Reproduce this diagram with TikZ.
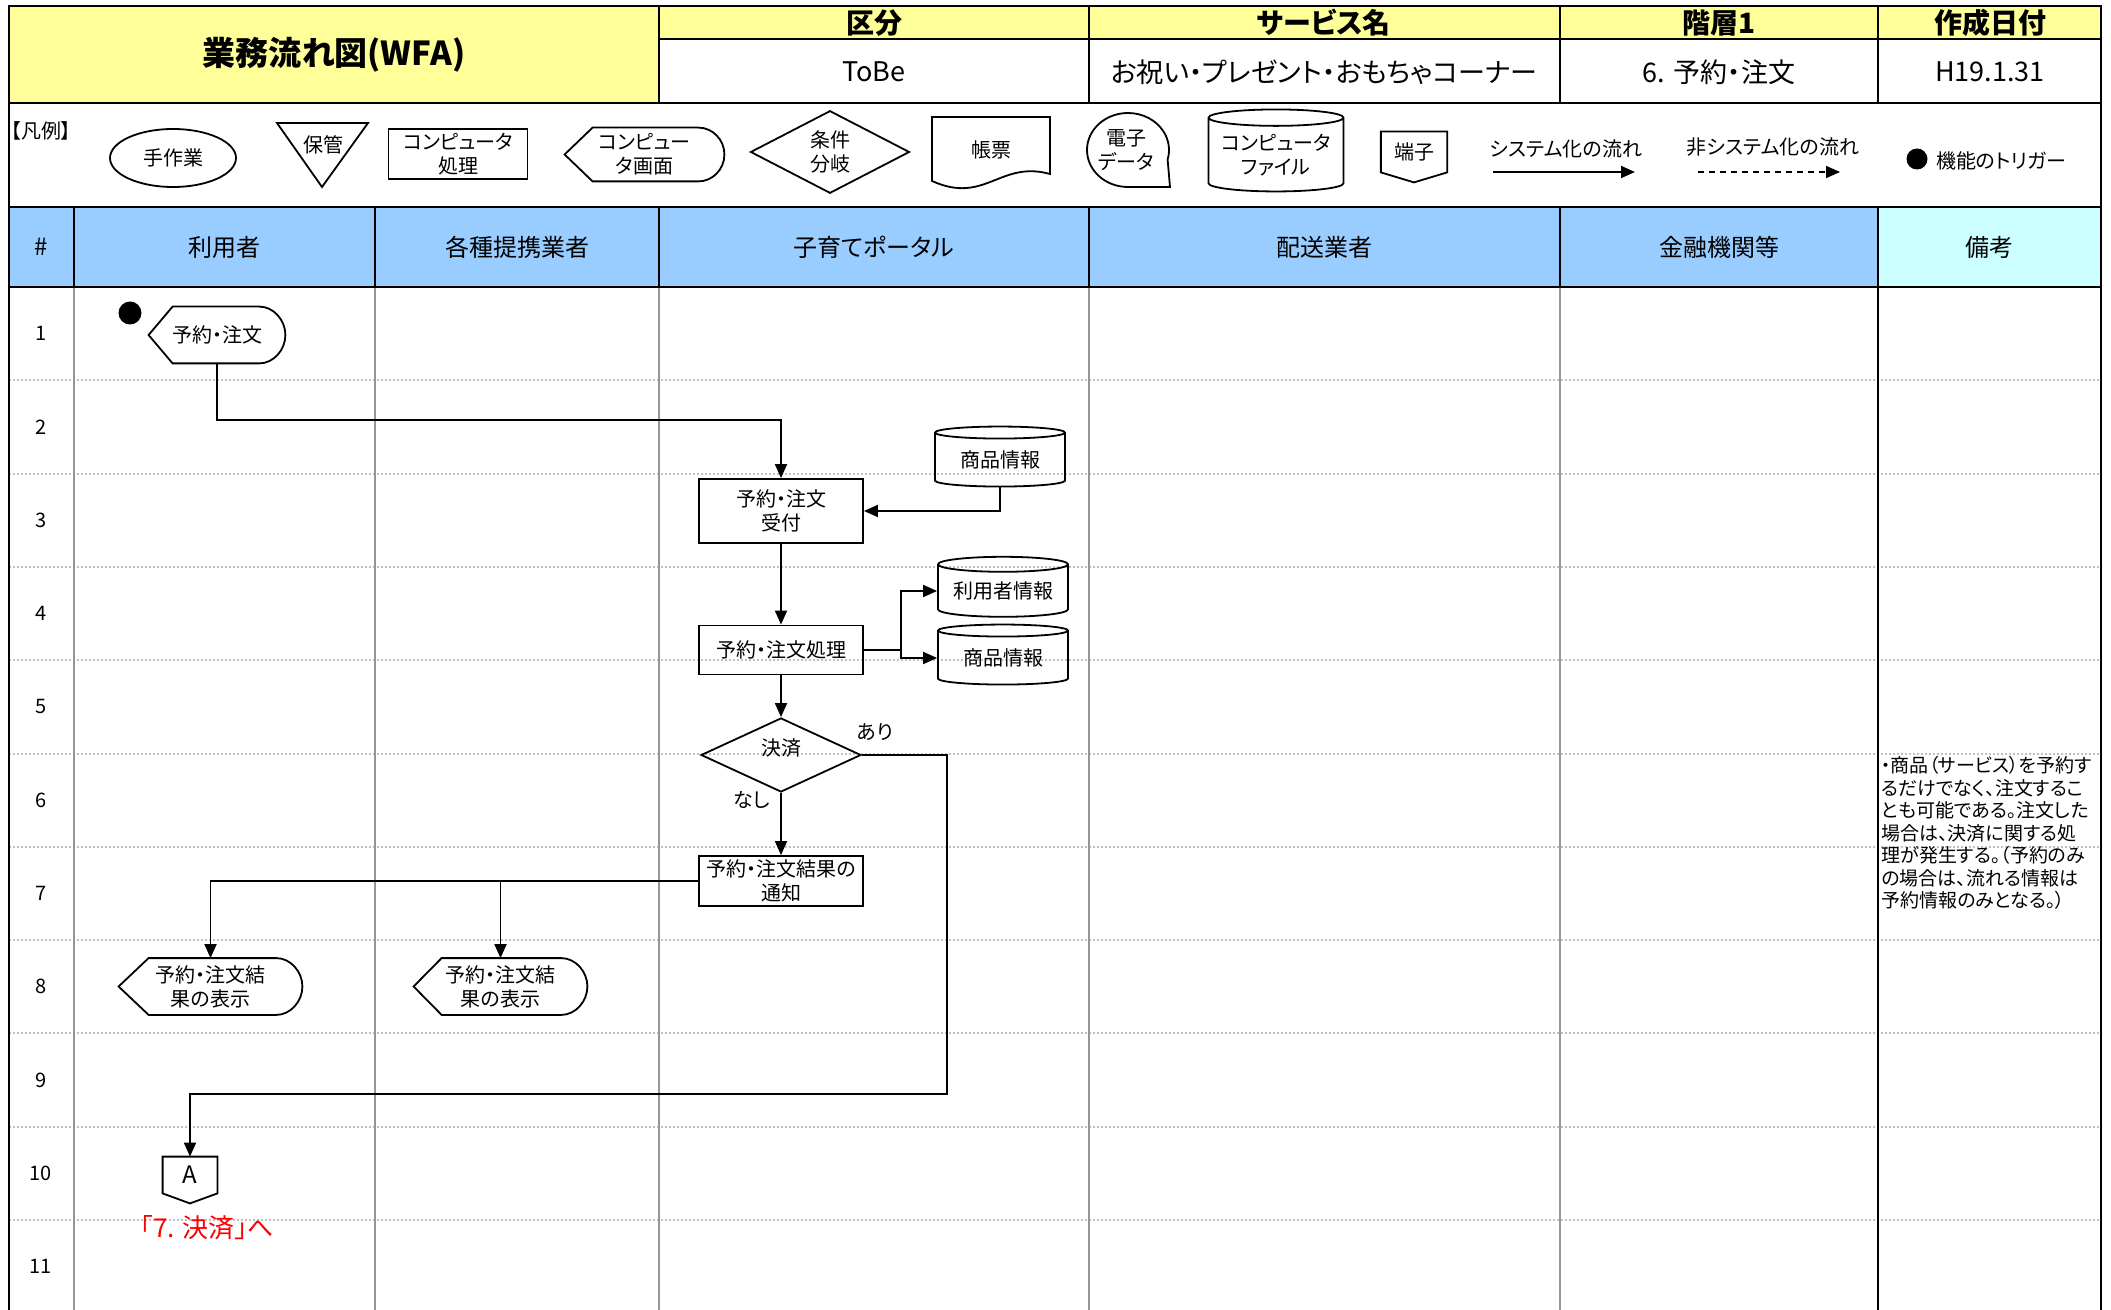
\documentclass[tikz,border=0pt]{standalone}
\usepackage{fontspec}
\setmainfont{Noto Sans CJK JP}[RawFeature=+palt]
\usetikzlibrary{calc, arrows.meta, shapes.geometric}
\definecolor{ttlyellow}{HTML}{FFFF99}
\definecolor{laneblue}{HTML}{99CCFF}
\definecolor{notecyan}{HTML}{CCFFFF}
\definecolor{lanegray}{HTML}{969696}
\definecolor{dotgray}{HTML}{C0C0C0}
\tikzset{>={Triangle[length=7pt,width=6pt]}}
\tikzset{
  boldline/.style={line width=1.3pt},
  lanesep/.style={lanegray, line width=1pt},
  rowsep/.style={dotgray, line width=1pt, dash pattern=on 1pt off 1pt},
  flow/.style={line width=0.9pt},
  shp/.style={draw, line width=0.9pt},
  procbox/.style={shp, minimum width=82pt},
  dispnode/.style={minimum height=28pt},
  datacyl/.style={shp, cylinder, shape border rotate=90, shape aspect=0.15, minimum width=65pt, minimum height=30pt},
  offpage/.style={minimum width=27pt, minimum height=18pt},
  hdr/.style={font=\fontsize{14pt}{16pt}\selectfont\bfseries},
  hval/.style={font=\fontsize{13.5pt}{16pt}\selectfont},
  lane/.style={font=\fontsize{12pt}{14pt}\selectfont}
}
\begin{document}
\begin{tikzpicture}[x=0.5pt, y=-0.5pt, every node/.style={font=\fontsize{10pt}{12pt}\selectfont, inner sep=0pt, align=center}]
\useasboundingbox (0,0) rectangle (2111,1310);
\fill[ttlyellow] (9,6) rectangle (659,103);
\fill[ttlyellow] (659,6) rectangle (2101,39);
\fill[laneblue] (9,207) rectangle (1878,287);
\fill[notecyan] (1878,207) rectangle (2101,287);
\foreach \i in {1,...,10}
  \draw[rowsep] (9,{287+93.3*\i}) -- (2101,{287+93.3*\i});
\foreach \x in {74,375,659,1089,1560}
  \draw[lanesep] (\x,287) -- (\x,1310);
\foreach \x in {74,375,659,1089,1560,1878}
  \draw[boldline] (\x,207) -- (\x,287);
\foreach \x in {659,1089,1560,1878}
  \draw[boldline] (\x,6) -- (\x,103);
\draw[boldline] (1878,287) -- (1878,1310);
\draw[boldline] (659,39) -- (2101,39);
\draw[boldline] (9,103) -- (2101,103);
\draw[boldline] (9,207) -- (2101,207);
\draw[boldline] (9,287) -- (2101,287);
\draw[boldline] (9,1310) -- (9,6) -- (2101,6) -- (2101,1310);

\node[font=\fontsize{16.5pt}{18pt}\selectfont\bfseries] (title) at (334,55) {業務流れ図(WFA)};
\node[hdr] (hkubun) at (874,23) {区分};
\node[hdr] (hsvc) at (1324,23) {サービス名};
\node[hdr] (hlvl) at (1719,23) {階層1};
\node[hdr] (hdate) at (1990,23) {作成日付};
\node[hval] (vkubun) at (874,72) {ToBe};
\node[hval] (vsvc) at (1324,72) {お祝い・プレゼント・おもちゃコーナー};
\node[hval] (vlvl) at (1719,72) {6. 予約・注文};
\node[hval] (vdate) at (1990,72) {H19.1.31};

\node[lane] (lnum) at (41,247) {\#};
\node[lane] (luser) at (224.5,247) {利用者};
\node[lane] (lpartner) at (517,247) {各種提携業者};
\node[lane] (lportal) at (874,247) {子育てポータル};
\node[lane] (lship) at (1324.5,247) {配送業者};
\node[lane] (lbank) at (1719,247) {金融機関等};
\node[lane] (lnote) at (1989.5,247) {備考};
\foreach \i in {1,...,11}
  \node (row\i) at (41,{287+93.3*(\i-0.5)}) {\i};

\node[anchor=north west] (lgtitle) at (11,121) {【凡例】};
\node[shp, ellipse, minimum width=63pt, minimum height=29pt] (lgman) at (173,158) {手作業};
\draw[flow] (277,123) -- (368,123) -- (322,187) -- cycle;
\node (lgsto) at (323,145) {保管};
\node[shp, minimum width=69.5pt, minimum height=25pt] (lgproc) at (458,154) {コンピュータ\\処理};
\node[minimum width=79.5pt, minimum height=26.5pt] (lgdisp) at (644.5,154.5) {コンピュー\\タ画面};
\node[shp, diamond, minimum width=79.5pt, minimum height=35pt] (lgcond) at (830,152) {条件\\分岐};
\draw[flow] (932,117) -- (1050,117) -- (1050,174) .. controls (1000,160) and (985,205) .. (932,181) -- cycle;
\node (lgdoc) at (991,150) {帳票};
\draw[flow] (1128,187) arc[start angle=-90, end angle=-375, x radius=20.5pt, y radius=18.5pt] -- (1170,187) -- cycle;
\node (lgtape) at (1126,150) {電子\\データ};
\node[datacyl, minimum width=67.5pt, minimum height=41pt] (lgfile) at (1276,155) {コンピュータ\\ファイル};
\node[offpage, minimum width=32.75pt, minimum height=20pt] (lgterm) at (1414,152) {端子};
\node (lgsys) at (1566,149) {システム化の流れ};
\coordinate (lgsysa) at (1493,172);
\coordinate (lgsysb) at (1635,172);
\draw[flow,->] (lgsysa) -- (lgsysb);
\node (lgnsys) at (1773,147) {非システム化の流れ};
\coordinate (lgnsysa) at (1698,172);
\coordinate (lgnsysb) at (1840,172);
\draw[flow,->,dash pattern=on 3pt off 2.5pt] (lgnsysa) -- (lgnsysb);
\node[circle, fill, minimum size=10.5pt] (lgdot) at (1917,159) {};
\node (lgtrig) at (2001,161) {機能のトリガー};

\node[circle, fill, minimum size=11.5pt] (trig) at (130,313) {};
\node[dispnode, minimum width=68pt] (in1) at (217,335) {予約・注文};
\node[procbox, minimum height=32pt] (uke) at (781,511) {予約・注文\\受付};
\node[datacyl] (sh1) at (1000,460) {商品情報};
\node[procbox, minimum height=24.5pt] (shori) at (781,650) {予約・注文処理};
\node[datacyl] (usr) at (1003,591) {利用者情報};
\node[datacyl] (sh2) at (1003,658) {商品情報};
\node[shp, diamond, minimum width=80pt, minimum height=37pt] (kes) at (781,755) {\raisebox{8pt}{決済}};
\node (lblyes) at (875,732) {あり};
\node (lblno) at (752,800) {なし};
\node[procbox, minimum height=25pt] (tsuchi) at (781,881) {予約・注文結果の\\通知};
\node[dispnode, minimum width=91.5pt] (out1) at (210.5,986.5) {予約・注文結\\果の表示};
\node[dispnode, minimum width=86.5pt] (out2) at (500.5,986.5) {予約・注文結\\果の表示};
\node[offpage, font=\fontsize{12pt}{14pt}\selectfont] (conA) at (190,1175) {A};
\node[text=red, font=\fontsize{13pt}{15pt}\selectfont] (gopay) at (207,1228) {「7. 決済」へ};

\foreach \n/\s in {lgdisp/14pt,in1/12pt,out1/15pt,out2/14pt}
  \draw[flow] (\n.west) -- ([xshift=\s]\n.north west) -- ([xshift=-13pt]\n.north east)
    .. controls ([xshift=-6pt]\n.north east) and ([yshift=7.5pt]\n.east) .. (\n.east)
    .. controls ([yshift=-7.5pt]\n.east) and ([xshift=-6pt]\n.south east) .. ([xshift=-13pt]\n.south east)
    -- ([xshift=\s]\n.south west) -- cycle;
\foreach \n in {lgterm,conA}
  \draw[flow] (\n.north west) -- (\n.north east) -- (\n.south east) -- ([yshift=-5pt]\n.south) -- (\n.south west) -- cycle;

\coordinate (j1) at (781,420);
\draw[flow,->] (in1.south) |- (j1) -- (uke.north);
\draw[flow,->] (sh1.south) |- (uke.east);
\draw[flow,->] (uke.south) -- (shori.north);
\coordinate (j2) at (901,650);
\draw[flow,->] (shori.east) -- (j2) |- (usr.west);
\draw[flow,->] (j2) |- (sh2.west);
\draw[flow,->] (shori.south) -- (kes.north);
\draw[flow,->] (kes.south) -- (tsuchi.north);
\coordinate (j3) at (947,1094);
\draw[flow,->] (kes.east) -| (j3) -| (conA.north);
\draw[flow,->] (tsuchi.west) -| (out1.north);
\draw[flow,->] (out2.north |- tsuchi.west) -- (out2.north);

\node[anchor=north west, align=left, font=\fontsize{9.5pt}{11.25pt}\selectfont] (note) at (1881,756) {・商品（サービス）を予約す\\るだけでなく、注文するこ\\とも可能である。注文した\\場合は、決済に関する処\\理が発生する。（予約のみ\\の場合は、流れる情報は\\予約情報のみとなる。）};
\end{tikzpicture}
\end{document}
